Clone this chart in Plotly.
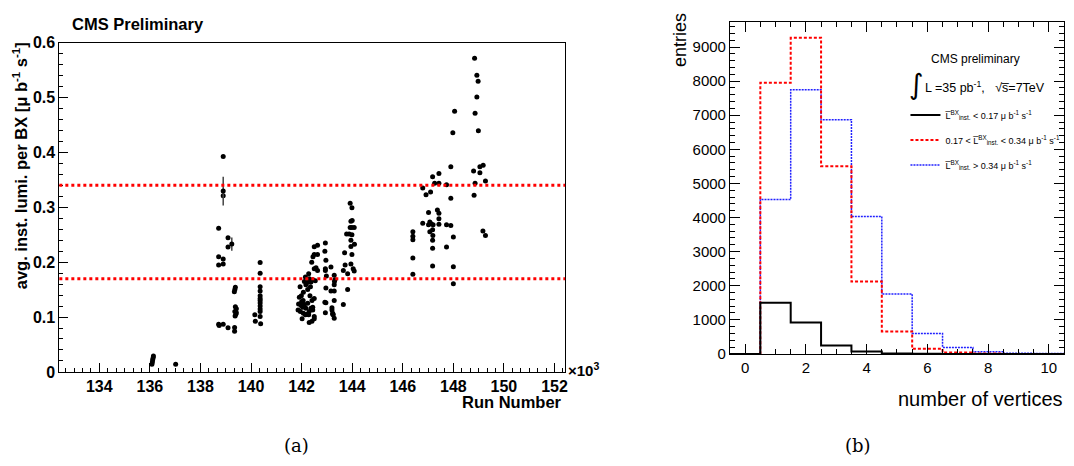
import plotly.graph_objects as go

W, H = 1074, 466
def px(x):
    return x / W
def py(y):
    return 1 - y / H

# ---------------- (a) luminosity per run ----------------
runs_136 = [136.08, 136.10, 136.11, 136.13, 136.14, 137.02]
lumi_136 = [0.014, 0.018, 0.022, 0.026, 0.029, 0.014]

runs_139 = [138.72, 138.72, 138.72, 138.72, 138.74, 138.90, 138.90, 138.90, 138.90, 138.90,
            139.09, 139.09, 139.09, 139.35, 139.35, 139.38, 139.36, 139.34,
            139.38, 139.42, 139.36, 139.40, 139.37, 139.42]
lumi_139 = [0.262, 0.210, 0.195, 0.0868, 0.0845, 0.3925, 0.321, 0.206, 0.1966, 0.0868,
            0.2446, 0.2278, 0.0804, 0.081, 0.074, 0.1544, 0.150, 0.146,
            0.119, 0.115, 0.110, 0.105, 0.102, 0.108]

runs_140 = [140.15, 140.17, 140.36, 140.36, 140.36, 140.36, 140.36, 140.36, 140.36,
            140.36, 140.36, 140.36, 140.36, 140.36, 140.38]
lumi_140 = [0.104, 0.0925, 0.1995, 0.180, 0.155, 0.1475, 0.139, 0.134, 0.130,
            0.1255, 0.120, 0.1145, 0.110, 0.101, 0.088]

runs_142 = [141.94, 141.99, 141.91, 142.07, 141.88, 141.98, 142.04, 142.11, 142.17, 141.86,
            141.95, 142.07, 142.15, 142.02, 142.28, 142.30, 142.37, 142.44, 142.50, 142.41,
            142.33, 142.24, 142.17, 142.11, 142.15, 142.28, 142.30, 142.37, 142.44, 142.54,
            142.50, 142.50, 142.63, 142.50, 142.63, 142.57, 142.63, 142.30, 142.41, 142.50,
            142.50, 142.44, 142.21, 142.00, 142.06, 142.24, 142.35, 142.22, 142.40, 142.45]
lumi_142 = [0.155, 0.139, 0.136, 0.145, 0.124, 0.121, 0.118, 0.123, 0.116, 0.113,
            0.110, 0.107, 0.104, 0.097, 0.104, 0.110, 0.116, 0.118, 0.134, 0.130,
            0.139, 0.150, 0.159, 0.165, 0.173, 0.179, 0.170, 0.164, 0.168, 0.166,
            0.188, 0.214, 0.214, 0.228, 0.231, 0.190, 0.185, 0.090, 0.0925, 0.101,
            0.097, 0.113, 0.105, 0.128, 0.130, 0.125, 0.155, 0.163, 0.200, 0.210]

runs_143 = [142.94, 142.96, 142.94, 142.94, 142.96, 142.92, 142.96, 142.94, 143.16, 143.20,
            143.20, 143.23, 143.25, 143.29, 143.16, 143.29, 143.29, 143.32, 143.29, 143.29,
            143.23, 142.92, 142.98, 143.30]
lumi_143 = [0.235, 0.2035, 0.188, 0.185, 0.153, 0.127, 0.126, 0.108, 0.191, 0.117,
            0.113, 0.107, 0.104, 0.098, 0.1475, 0.1475, 0.176, 0.168, 0.159, 0.130,
            0.105, 0.220, 0.175, 0.165]

runs_144 = [143.65, 143.65, 143.70, 143.82, 143.82, 143.78, 143.88, 143.92, 143.99, 144.08,
            143.92, 143.99, 143.95, 144.00, 143.95, 143.95, 144.09, 143.99, 143.95, 144.04,
            144.08, 143.99, 143.72]
lumi_144 = [0.123, 0.185, 0.217, 0.179, 0.150, 0.2515, 0.2515, 0.263, 0.263, 0.263,
            0.3075, 0.299, 0.2745, 0.276, 0.240, 0.2285, 0.2325, 0.214, 0.1965, 0.188,
            0.184, 0.250, 0.195]

runs_147 = [146.40, 146.40, 146.40, 146.40, 146.40,
            146.79, 146.92, 147.10, 147.18, 147.43, 147.26, 147.43,
            147.02, 147.37, 147.43, 147.43, 147.43,
            146.79, 147.02, 147.07, 147.12, 147.20,
            147.18, 147.07, 147.19, 147.18, 147.18, 147.18,
            147.73, 147.73, 147.90, 148.00, 147.73, 148.00, 148.00,
            147.90, 147.90, 148.05, 147.98]
lumi_147 = [0.2555, 0.2474, 0.241, 0.2078, 0.178,
            0.335, 0.323, 0.328, 0.3557, 0.3615, 0.344, 0.344,
            0.2905, 0.295, 0.289, 0.279, 0.269,
            0.271, 0.268, 0.273, 0.270, 0.268,
            0.259, 0.2555, 0.2486, 0.240, 0.2253, 0.193,
            0.341, 0.268, 0.267, 0.2457, 0.2276, 0.1915, 0.1607,
            0.3737, 0.3167, 0.475, 0.436]

runs_149 = [148.84, 148.93, 148.98, 148.93, 148.86, 148.99,
            148.80, 149.05, 149.18, 149.05, 148.86, 149.27, 148.82,
            149.17, 149.27]
lumi_149 = [0.5716, 0.5407, 0.5297, 0.501, 0.4715, 0.4395,
            0.366, 0.3737, 0.3766, 0.363, 0.344, 0.348, 0.322,
            0.2567, 0.2486]

# points drawn with a visible error bar
err_runs = [138.90, 139.24]
err_lumi = [0.3295, 0.233]
err_size = [0.026, 0.012]

# luminosity category boundaries
lumi_cuts = [0.17, 0.34]

x_ticks_a = [134, 136, 138, 140, 142, 144, 146, 148, 150, 152]

# ---------------- (b) vertex multiplicity ----------------
n_vertices = [0, 1, 2, 3, 4, 5, 6, 7, 8, 9, 10]
entries_low = [0, 1500, 920, 250, 70, 15, 5, 0, 0, 0, 0]
entries_mid = [0, 7950, 9270, 5500, 2120, 660, 150, 40, 10, 0, 0]
entries_high = [0, 4530, 7750, 6870, 4030, 1760, 600, 190, 60, 20, 10]

fig = go.Figure()

all_runs = runs_136 + runs_139 + runs_140 + runs_142 + runs_143 + runs_144 + runs_147 + runs_149
all_lumi = lumi_136 + lumi_139 + lumi_140 + lumi_142 + lumi_143 + lumi_144 + lumi_147 + lumi_149

fig.add_trace(go.Scatter(x=all_runs, y=all_lumi, mode="markers",
                         marker=dict(color="black", size=5),
                         showlegend=False, xaxis="x", yaxis="y"))
fig.add_trace(go.Scatter(x=err_runs, y=err_lumi, mode="markers",
                         marker=dict(color="black", size=5),
                         error_y=dict(type="data", array=err_size, visible=True,
                                      color="#444444", thickness=1.5, width=0),
                         showlegend=False, xaxis="x", yaxis="y"))

for yc in lumi_cuts:
    fig.add_shape(type="line", xref="x domain", yref="y", x0=0, x1=1, y0=yc, y1=yc,
                  line=dict(color="#ff0000", width=3, dash="3px,3px"))

def edges(centers):
    return [c - 0.5 for c in centers] + [centers[-1] + 0.5]

def steps(vals):
    return vals + [vals[-1]]

lbl = "L\u0305<sup>BX</sup><sub>inst.</sub>"
unit = " \u03bc b<sup>-1</sup> s<sup>-1</sup>"

fig.add_trace(go.Scatter(x=edges(n_vertices), y=steps(entries_high), mode="lines",
                         line=dict(color="#2020ff", width=1.5, dash="2px,1px", shape="hv"),
                         name=lbl + " &gt; 0.34" + unit, legendgroup="c", legendrank=3,
                         xaxis="x2", yaxis="y2"))
fig.add_trace(go.Scatter(x=edges(n_vertices), y=steps(entries_mid), mode="lines",
                         line=dict(color="#ff0000", width=2, dash="3px,2px", shape="hv"),
                         name="0.17 &lt; " + lbl + " &lt; 0.34" + unit, legendgroup="b", legendrank=2,
                         xaxis="x2", yaxis="y2"))
fig.add_trace(go.Scatter(x=edges(n_vertices), y=steps(entries_low), mode="lines",
                         line=dict(color="black", width=2, shape="hv"),
                         name=lbl + " &lt; 0.17" + unit, legendgroup="a", legendrank=1,
                         xaxis="x2", yaxis="y2"))

bold = dict(family="Liberation Sans", size=16, color="black", weight="bold")
reg = dict(family="Liberation Sans", size=15, color="black")

common = dict(showgrid=False, zeroline=False, showline=True, linecolor="black", linewidth=1,
              ticks="inside", tickcolor="black", tickwidth=1)

fig.update_layout(
    width=W, height=H, autosize=False,
    margin=dict(l=0, r=0, t=0, b=0),
    paper_bgcolor="white", plot_bgcolor="white",
    xaxis=dict(domain=[px(59.5), px(566.7)], range=[132.42, 152.42],
               tickmode="array", tickvals=x_ticks_a, ticktext=[str(v) for v in x_ticks_a],
               ticklen=9, mirror=True, tickfont=bold,
               minor=dict(dtick=1 / 3, tick0=134, ticklen=4, ticks="inside", tickcolor="black"),
               anchor="y", **common),
    yaxis=dict(domain=[py(377.7), py(36)], range=[0, 0.6], tick0=0, dtick=0.1,
               ticklen=9, mirror=True, tickfont=bold,
               minor=dict(dtick=0.02, ticklen=4, ticks="inside", tickcolor="black"),
               anchor="x", **common),
    xaxis2=dict(domain=[px(732), px(1067)], range=[-0.5, 10.5], tick0=0, dtick=2,
                ticklen=10, mirror="ticks", tickfont=reg,
                minor=dict(dtick=0.5, ticklen=5, ticks="inside", tickcolor="black"),
                anchor="y2", **common),
    yaxis2=dict(domain=[py(359), py(14.3)], range=[0, 9740], tick0=0, dtick=1000,
                ticklen=10, mirror="ticks", tickfont=reg,
                minor=dict(dtick=200, ticklen=5, ticks="inside", tickcolor="black"),
                anchor="x2", **common),
    legend=dict(x=px(908), y=py(96), xanchor="left", yanchor="top",
                font=dict(family="Liberation Sans", size=9, color="black"),
                bgcolor="rgba(0,0,0,0)", itemwidth=30, tracegroupgap=6),
    showlegend=True,
)

ann = []
ann.append(dict(text="CMS Preliminary", x=px(70), y=py(17), xanchor="left", yanchor="middle",
                font=dict(family="Liberation Sans", size=16.5, color="black", weight="bold")))
ann.append(dict(text="avg. inst. lumi. per BX [\u03bc b<sup>-1</sup> s<sup>-1</sup>]",
                x=px(20), y=py(33), xanchor="center", yanchor="top", textangle=-90,
                font=dict(family="Liberation Sans", size=16.5, color="black", weight="bold")))
ann.append(dict(text="Run Number", x=px(566), y=py(409), xanchor="right", yanchor="middle",
                font=dict(family="Liberation Sans", size=16.5, color="black", weight="bold")))
ann.append(dict(text="\u00d710<sup>3</sup>", x=px(568), y=py(375), xanchor="left", yanchor="middle",
                font=dict(family="Liberation Sans", size=15, color="black", weight="bold")))
ann.append(dict(text="entries", x=px(682), y=py(3), xanchor="center", yanchor="top", textangle=-90,
                font=dict(family="Liberation Sans", size=18, color="black")))
ann.append(dict(text="number of vertices", x=px(1068), y=py(406), xanchor="right", yanchor="middle",
                font=dict(family="Liberation Sans", size=20, color="black")))
ann.append(dict(text="CMS preliminary", x=px(978), y=py(53), xanchor="center", yanchor="middle",
                font=dict(family="Liberation Sans", size=12, color="black")))
ann.append(dict(text="\u222b", x=px(919), y=py(79), xanchor="center", yanchor="middle",
                font=dict(family="DejaVu Sans", size=28, color="black")))
ann.append(dict(text="L =35 pb<sup>-1</sup>,   \u221as\u0305=7TeV", x=px(926), y=py(82),
                xanchor="left", yanchor="middle",
                font=dict(family="Liberation Sans", size=12.5, color="black")))
ann.append(dict(text="(a)", x=px(297), y=py(454), xanchor="center", yanchor="middle",
                font=dict(family="DejaVu Serif", size=18, color="black")))
ann.append(dict(text="(b)", x=px(860), y=py(454), xanchor="center", yanchor="middle",
                font=dict(family="DejaVu Serif", size=18, color="black")))
for a in ann:
    a.update(xref="paper", yref="paper", showarrow=False)
fig.update_layout(annotations=ann)

fig.write_html("out.html")
